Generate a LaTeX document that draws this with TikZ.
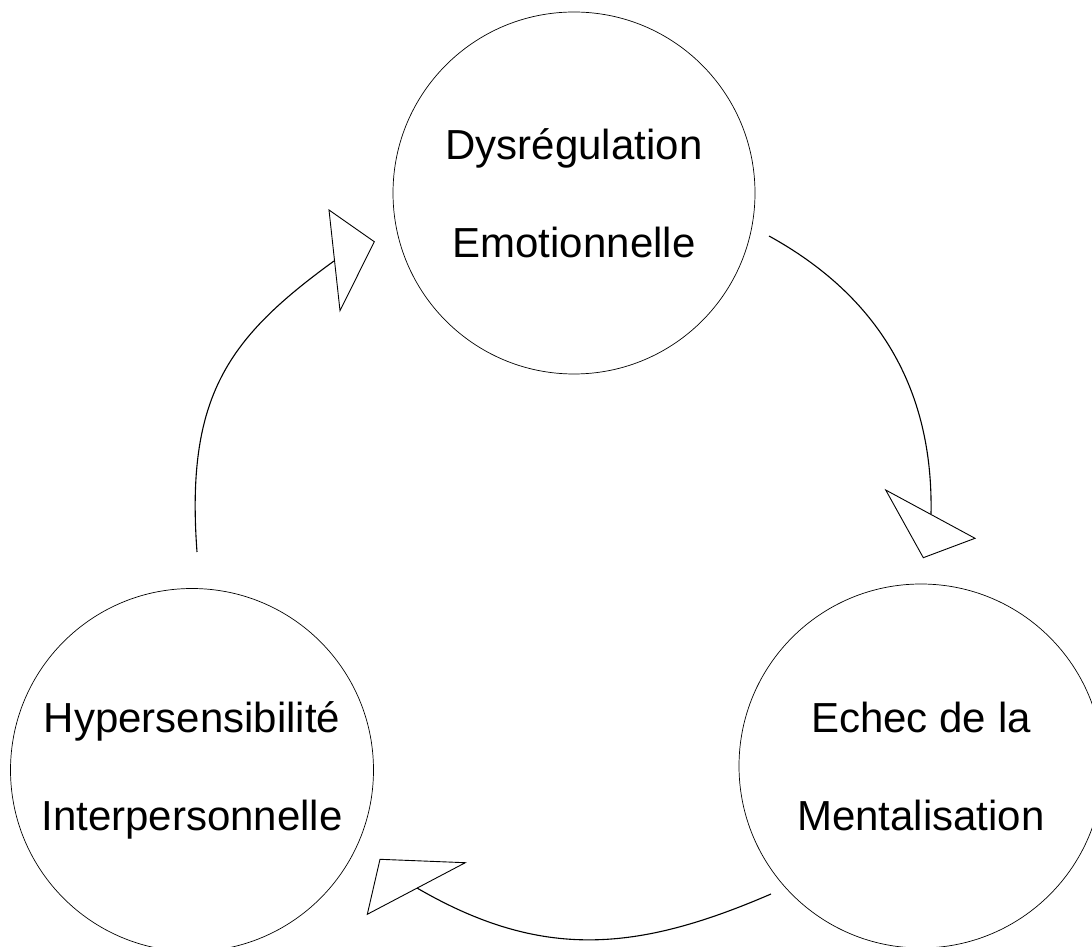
\documentclass[tikz,border=0pt]{standalone}
\usepackage{fontspec}
\setmainfont{Liberation Sans}
\begin{document}
\begin{tikzpicture}[x=1pt,y=1pt,
  stage/.style={draw, circle, line width=0.7pt, inner sep=0pt, align=center,
    font=\fontsize{42}{98}\selectfont},
  flow/.style={line width=1.1pt},
  head/.style={line width=0.9pt, line join=miter, fill=white}]
\useasboundingbox (0,0) rectangle (1092,946);
\clip (0,0) rectangle (1092,946);

% the three stages of the cycle
\node[stage, minimum size=362pt] (dys) at (574,753) {Dysrégulation\\Emotionnelle};
\node[stage, minimum size=364pt] (ment) at (921,180) {Echec de la\\Mentalisation};
\node[stage, minimum size=363pt] (hyper) at (192,176) {Hypersensibilité\\Interpersonnelle};

% end points of the curved connectors
\coordinate (a1s) at (769,710);
\coordinate (a1e) at (931,432);
\coordinate (a2s) at (771,52);
\coordinate (a2e) at (417,58);
\coordinate (a3s) at (197,394);
\coordinate (a3e) at (334,685);

% open triangular heads
\coordinate (h1a) at (885.7,456);   \coordinate (h1b) at (975,407.7);  \coordinate (h1c) at (923.3,388.3);
\coordinate (h2a) at (380,86.7);    \coordinate (h2b) at (465.3,83.3); \coordinate (h2c) at (367.3,31.7);
\coordinate (h3a) at (329,736);     \coordinate (h3b) at (374.3,704.3);\coordinate (h3c) at (340,635.3);

% curved connectors
\draw[flow] (a1s) .. controls (878.5,649.7) and (933.5,557) .. (a1e);
\draw[flow] (a2s) .. controls (637.9,-5.4) and (542.3,-14.9) .. (a2e);
\draw[flow] (a3s) .. controls (185.5,550) and (228,608) .. (a3e);

\draw[head] (h1a) -- (h1b) -- (h1c) -- cycle;
\draw[head] (h2a) -- (h2b) -- (h2c) -- cycle;
\draw[head] (h3a) -- (h3b) -- (h3c) -- cycle;
\end{tikzpicture}
\end{document}
